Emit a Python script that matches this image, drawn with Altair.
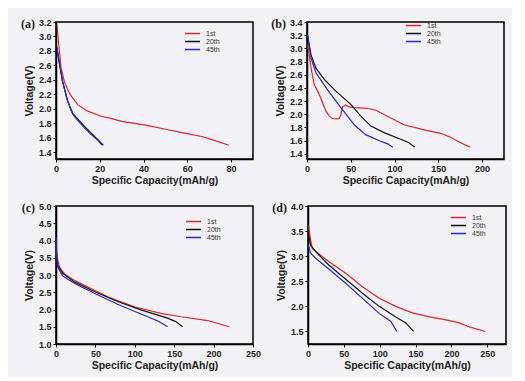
import altair as alt
import pandas as pd

series_names = ["1st", "20th", "45th"]
series_colors = ["#e8202a", "#111111", "#2323e0"]

# ---- panel (a) ----
a_1st_x = [0.5, 0.8, 2.3, 3.8, 5.3, 6.9, 9.9, 14.5, 20.6, 25, 30, 40.4, 50, 60, 66.5, 72, 79]
a_1st_y = [3.15, 3.03, 2.57, 2.38, 2.27, 2.18, 2.06, 1.97, 1.90, 1.87, 1.83, 1.78, 1.72, 1.66, 1.62, 1.57, 1.50]
a_20th_x = [0.4, 1.5, 3.0, 5.3, 7.6, 10, 13, 16, 19, 21.6]
a_20th_y = [2.85, 2.64, 2.38, 2.11, 1.94, 1.86, 1.76, 1.67, 1.58, 1.50]
a_45th_x = [0.4, 1.5, 3.0, 5.3, 7.6, 10, 13, 16, 19, 21.0]
a_45th_y = [2.85, 2.64, 2.38, 2.11, 1.93, 1.84, 1.74, 1.65, 1.57, 1.50]

# ---- panel (b) ----
b_1st_x = [0.8, 4.6, 8.3, 14, 17, 21.6, 25.4, 29.2, 33, 36.8, 38.7, 40.6, 44.4, 48.2, 53.9, 69, 78.6, 91.8, 110.8, 137.4, 152.6, 164, 175, 186]
b_1st_y = [3.06, 2.70, 2.45, 2.30, 2.20, 2.05, 1.97, 1.935, 1.93, 1.935, 1.996, 2.11, 2.14, 2.11, 2.10, 2.09, 2.06, 1.97, 1.84, 1.75, 1.71, 1.65, 1.57, 1.50]
b_20th_x = [0.8, 4.6, 10.2, 19.7, 33, 50, 61.5, 72.9, 88, 107, 116, 123]
b_20th_y = [3.18, 2.90, 2.70, 2.53, 2.35, 2.15, 1.97, 1.82, 1.72, 1.62, 1.57, 1.50]
b_45th_x = [0.8, 4.6, 10.2, 23.5, 38.7, 54, 67, 84, 92, 98]
b_45th_y = [3.20, 2.85, 2.63, 2.37, 2.10, 1.84, 1.69, 1.59, 1.55, 1.50]

# ---- panel (c) ----
c_1st_x = [0.5, 1.3, 4.2, 10.6, 23.3, 44.4, 65.6, 99.4, 133, 158.6, 192.4, 220]
c_1st_y = [3.65, 3.53, 3.24, 3.03, 2.85, 2.61, 2.37, 2.08, 1.89, 1.79, 1.68, 1.50]
c_20th_x = [0.3, 1.0, 2.1, 8.5, 23.3, 48.6, 78.2, 107.8, 141.6, 152, 160.6]
c_20th_y = [3.9, 3.45, 3.29, 3.05, 2.80, 2.52, 2.23, 1.99, 1.75, 1.65, 1.50]
c_45th_x = [0.3, 1.0, 2.1, 8.5, 23.3, 48.6, 78.2, 107.8, 130, 141.6]
c_45th_y = [4.1, 3.45, 3.24, 2.97, 2.76, 2.47, 2.15, 1.87, 1.66, 1.50]

# ---- panel (d) ----
d_1st_x = [0.8, 3.7, 6, 29.3, 52.6, 75.9, 99.2, 122.4, 145.7, 169, 192.3, 210.9, 224.9, 247.2]
d_1st_y = [3.60, 3.32, 3.15, 2.89, 2.66, 2.39, 2.16, 2.00, 1.87, 1.79, 1.73, 1.67, 1.59, 1.50]
d_20th_x = [0.5, 3.7, 10.7, 29.3, 52.6, 75.9, 99.2, 122.4, 136.4, 147.1]
d_20th_y = [3.45, 3.22, 3.09, 2.82, 2.54, 2.26, 2.00, 1.79, 1.67, 1.50]
d_45th_x = [0.5, 3.7, 10.7, 29.3, 52.6, 75.9, 99.2, 115.5, 123.9]
d_45th_y = [3.22, 3.06, 2.96, 2.74, 2.46, 2.16, 1.86, 1.70, 1.50]

FONT = "Liberation Sans"
SERIF = "Liberation Serif"


def make_df(xs_list, ys_list):
    rows = []
    for name, xs, ys in zip(series_names, xs_list, ys_list):
        for i, (x, y) in enumerate(zip(xs, ys)):
            rows.append({"cap": x, "volt": y, "cycle": name, "i": i})
    return pd.DataFrame(rows)


def panel(label, df, xdom, xticks, ydom, yticks, legx, legy, w, h):
    leg = alt.Legend(title=None, orient="none", legendX=legx, legendY=legy,
                     symbolType="M-2,0L2,0", symbolSize=56, symbolStrokeWidth=1.5,
                     labelFontSize=7, labelFont=FONT, labelColor="#333",
                     rowPadding=0, labelOffset=9)
    base = alt.Chart(df).mark_line(strokeWidth=1.2, clip=True).encode(
        x=alt.X("cap:Q", scale=alt.Scale(domain=xdom, nice=False, zero=False),
                axis=alt.Axis(values=xticks, title="Specific Capacity(mAh/g)", format="d")),
        y=alt.Y("volt:Q", scale=alt.Scale(domain=ydom, nice=False, zero=False),
                axis=alt.Axis(values=yticks, title="Voltage(V)", format=".1f")),
        color=alt.Color("cycle:N", scale=alt.Scale(domain=series_names, range=series_colors),
                        legend=leg),
        order="i:Q",
    )
    txt = alt.Chart(pd.DataFrame({"t": [label]})).mark_text(
        font=SERIF, fontWeight="bold", fontSize=12, align="right", baseline="middle", color="#222"
    ).encode(text="t:N", x=alt.value(-21), y=alt.value(2))
    return alt.layer(base, txt).properties(width=w, height=h)


pa = panel("(a)", make_df([a_1st_x, a_20th_x, a_45th_x], [a_1st_y, a_20th_y, a_45th_y]),
           [0, 90], [0, 20, 40, 60, 80], [1.31, 3.2], [1.4 + 0.2 * k for k in range(10)], 132, 7, 197, 137)
pb = panel("(b)", make_df([b_1st_x, b_20th_x, b_45th_x], [b_1st_y, b_20th_y, b_45th_y]),
           [0, 225], [0, 50, 100, 150, 200], [1.32, 3.4], [1.4 + 0.2 * k for k in range(11)], 102, -1, 197, 137)
pc = panel("(c)", make_df([c_1st_x, c_20th_x, c_45th_x], [c_1st_y, c_20th_y, c_45th_y]),
           [0, 250], [0, 50, 100, 150, 200, 250], [1.0, 5.0], [1.0 + 0.5 * k for k in range(9)], 133, 11, 197, 138)
pd_ = panel("(d)", make_df([d_1st_x, d_20th_x, d_45th_x], [d_1st_y, d_20th_y, d_45th_y]),
            [0, 276], [0, 50, 100, 150, 200, 250], [1.25, 4.0], [1.5 + 0.5 * k for k in range(6)], 146, 7, 198, 138)

top = alt.hconcat(pa, pb, spacing=16).resolve_scale(color="independent")
bottom = alt.hconcat(pc, pd_, spacing=9).resolve_scale(color="independent")

chart = alt.vconcat(top, bottom, spacing=14).resolve_scale(color="independent").properties(
    background="#f2f2f6", padding={"left": 12, "top": 9, "right": 5, "bottom": 5}
).configure_view(
    stroke="black", strokeWidth=1.5, fill="#f2f2f6"
).configure_axis(
    labelFont=FONT, labelFontWeight="bold", labelFontSize=9, labelColor="#222",
    titleFont=FONT, titleFontWeight="bold", titleFontSize=10.5, titleColor="#222",
    domainColor="black", domainWidth=1.5, tickColor="black", tickSize=3, tickWidth=1,
    grid=False, labelPadding=2,
).configure_axisY(titlePadding=4).configure_axisX(titlePadding=2, labelFlush=False)

chart.save("out.html", embed_options={"renderer": "svg", "actions": False})
